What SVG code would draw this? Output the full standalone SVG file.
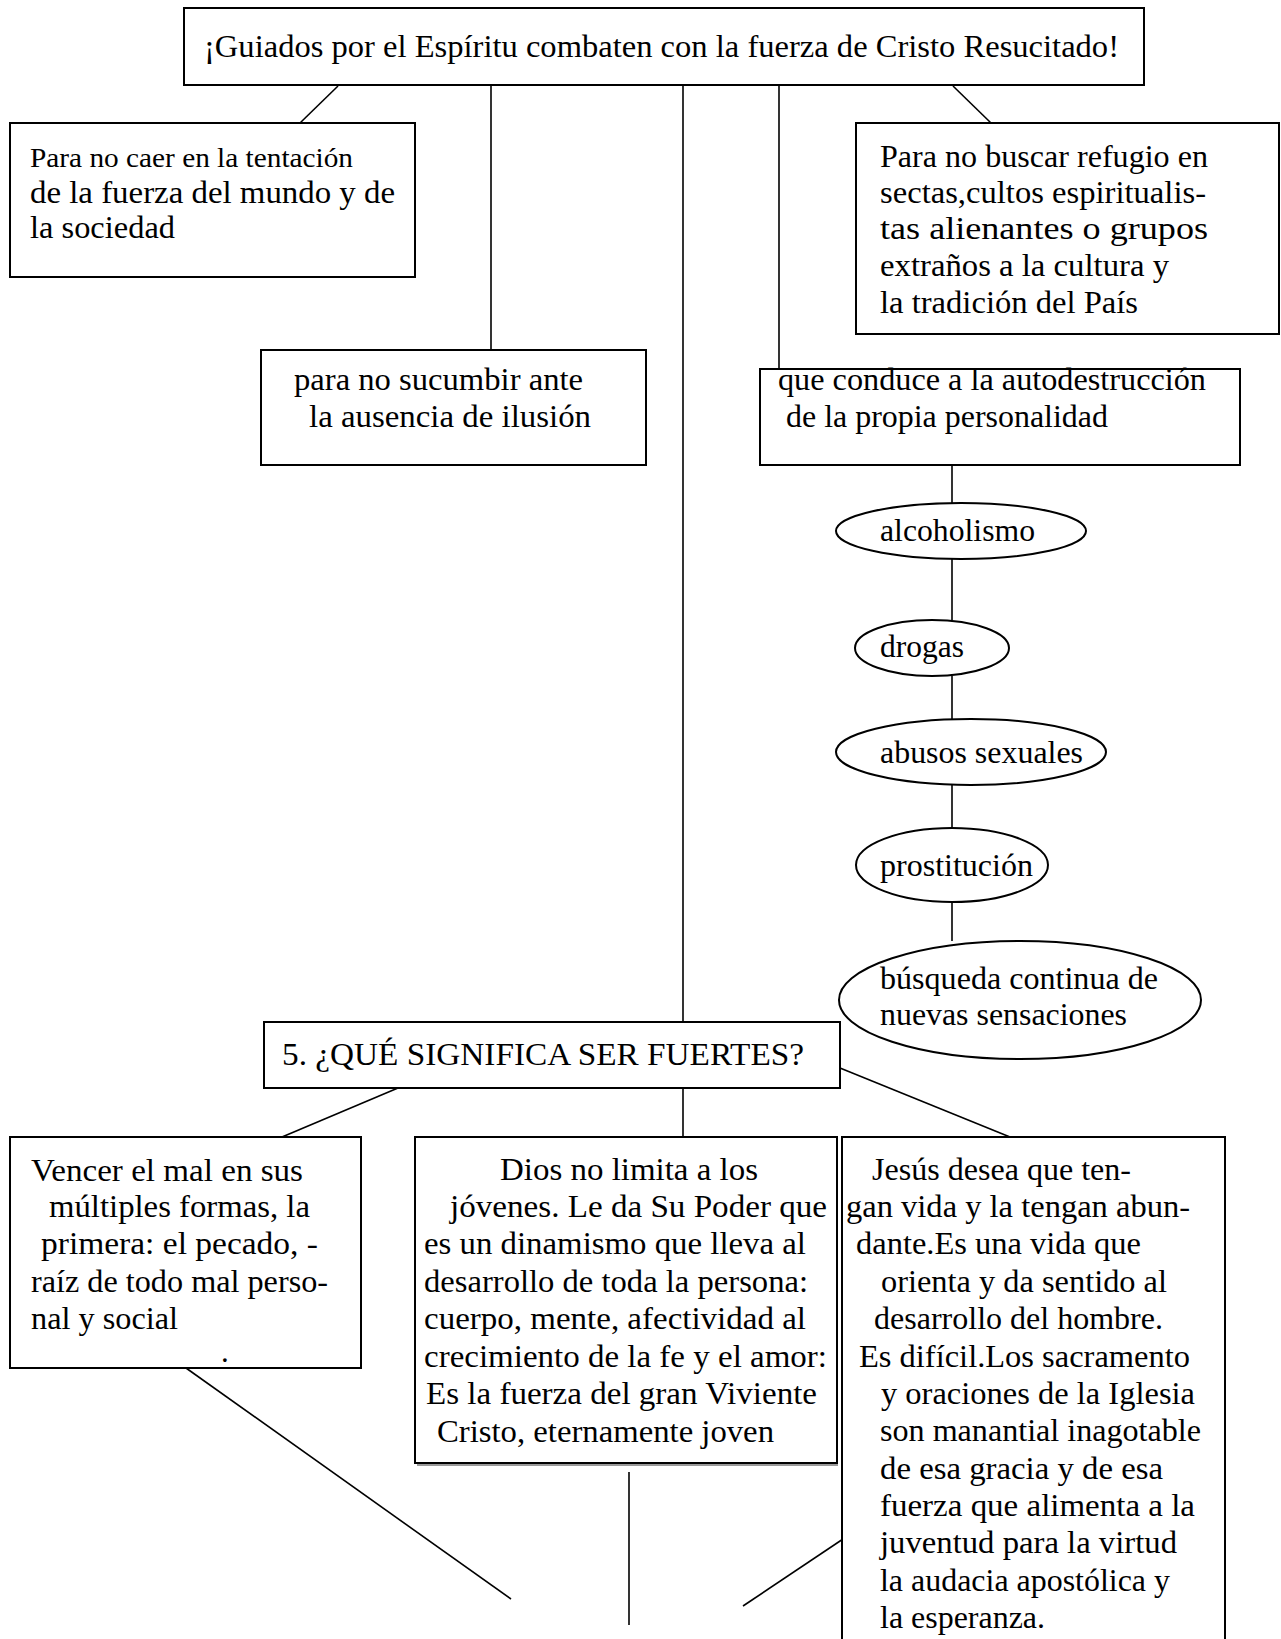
<svg xmlns="http://www.w3.org/2000/svg" width="1281" height="1639" viewBox="0 0 1281 1639">
<style>
  .box { fill: #fff; stroke: #000; stroke-width: 2; }
  .ell { fill: #fff; stroke: #000; stroke-width: 2; }
  .ln { stroke: #000; stroke-width: 1.6; fill: none; }
  .t { font-family: 'Times New Roman', Times, 'Liberation Serif', Tinos, serif; font-size: 31px; fill: #000; }
  .sm { font-size: 28px; }
</style>
<rect width="1281" height="1639" fill="#fff"/>
<g id="connectors">
  <line class="ln" x1="338" y1="86" x2="300" y2="123"/>
  <line class="ln" x1="491" y1="86" x2="491" y2="350"/>
  <line class="ln" x1="683" y1="86" x2="683" y2="1022"/>
  <line class="ln" x1="779" y1="86" x2="779" y2="372"/>
  <line class="ln" x1="953" y1="86" x2="991" y2="123"/>
  <line class="ln" x1="952" y1="466" x2="952" y2="503"/>
  <line class="ln" x1="952" y1="559" x2="952" y2="620"/>
  <line class="ln" x1="952" y1="676" x2="952" y2="719"/>
  <line class="ln" x1="952" y1="785" x2="952" y2="828"/>
  <line class="ln" x1="952" y1="902" x2="952" y2="941"/>
  <line class="ln" x1="398" y1="1088" x2="282" y2="1137"/>
  <line class="ln" x1="683" y1="1088" x2="683" y2="1137"/>
  <line class="ln" x1="840" y1="1068" x2="1010" y2="1137"/>
  <line class="ln" x1="186" y1="1368" x2="511" y2="1599"/>
  <line class="ln" x1="629" y1="1472" x2="629" y2="1625"/>
  <line class="ln" x1="743" y1="1606" x2="858" y2="1529"/>
</g>
<g id="title" class="t">
  <rect class="box" x="184" y="8" width="960" height="77"/>
  <text x="204" y="57" textLength="915" lengthAdjust="spacingAndGlyphs">¡Guiados por el Espíritu combaten con la fuerza de Cristo Resucitado!</text>
</g>
<g id="tentacion" class="t">
  <rect class="box" x="10" y="123" width="405" height="154"/>
  <text class="sm" x="30" y="167" textLength="323" lengthAdjust="spacingAndGlyphs">Para no caer en la tentación</text>
  <text x="30" y="203" textLength="365" lengthAdjust="spacingAndGlyphs">de la fuerza del mundo y de</text>
  <text x="30" y="238" textLength="145" lengthAdjust="spacingAndGlyphs">la sociedad</text>
</g>
<g id="refugio" class="t">
  <rect class="box" x="856" y="123" width="423" height="211"/>
  <text x="880" y="167" textLength="328" lengthAdjust="spacingAndGlyphs">Para  no  buscar  refugio  en</text>
  <text x="880" y="203" textLength="326" lengthAdjust="spacingAndGlyphs">sectas,cultos espiritualis-</text>
  <text x="880" y="239" textLength="328" lengthAdjust="spacingAndGlyphs">tas  alienantes  o  grupos</text>
  <text x="880" y="276" textLength="289" lengthAdjust="spacingAndGlyphs">extraños a la cultura y</text>
  <text x="880" y="313" textLength="258" lengthAdjust="spacingAndGlyphs">la tradición del País</text>
</g>
<g id="sucumbir" class="t">
  <rect class="box" x="261" y="350" width="385" height="115"/>
  <text x="294" y="390" textLength="289" lengthAdjust="spacingAndGlyphs">para no sucumbir ante</text>
  <text x="309" y="427" textLength="282" lengthAdjust="spacingAndGlyphs">la ausencia de ilusión</text>
</g>
<g id="autodestruccion" class="t">
  <rect class="box" x="760" y="369" width="480" height="96"/>
  <text x="778" y="390" textLength="428" lengthAdjust="spacingAndGlyphs">que conduce a la autodestrucción</text>
  <text x="786" y="427" textLength="322" lengthAdjust="spacingAndGlyphs">de la propia personalidad</text>
</g>
<g id="alcoholismo" class="t">
  <ellipse class="ell" cx="961" cy="531" rx="125" ry="28"/>
  <text x="880" y="541" textLength="155" lengthAdjust="spacingAndGlyphs">alcoholismo</text>
</g>
<g id="drogas" class="t">
  <ellipse class="ell" cx="932" cy="648" rx="77" ry="28"/>
  <text x="880" y="657" textLength="84" lengthAdjust="spacingAndGlyphs">drogas</text>
</g>
<g id="abusos" class="t">
  <ellipse class="ell" cx="971" cy="752" rx="135" ry="33"/>
  <text x="880" y="763" textLength="203" lengthAdjust="spacingAndGlyphs">abusos sexuales</text>
</g>
<g id="prostitucion" class="t">
  <ellipse class="ell" cx="952" cy="865" rx="96" ry="37"/>
  <text x="880" y="876" textLength="153" lengthAdjust="spacingAndGlyphs">prostitución</text>
</g>
<g id="busqueda" class="t">
  <ellipse class="ell" cx="1020" cy="1000" rx="181" ry="59"/>
  <text x="880" y="989" textLength="278" lengthAdjust="spacingAndGlyphs">búsqueda continua de</text>
  <text x="880" y="1025" textLength="247" lengthAdjust="spacingAndGlyphs">nuevas sensaciones</text>
</g>
<g id="fuertes" class="t">
  <rect class="box" x="264" y="1022" width="576" height="66"/>
  <text x="282" y="1065" textLength="522" lengthAdjust="spacingAndGlyphs">5. ¿QUÉ SIGNIFICA SER FUERTES?</text>
</g>
<g id="vencer" class="t">
  <rect class="box" x="10" y="1137" width="351" height="231"/>
  <text x="31" y="1181" textLength="272" lengthAdjust="spacingAndGlyphs">Vencer el mal en sus</text>
  <text x="49" y="1217" textLength="261" lengthAdjust="spacingAndGlyphs">múltiples formas, la</text>
  <text x="41" y="1254" textLength="277" lengthAdjust="spacingAndGlyphs">primera: el pecado, -</text>
  <text x="31" y="1292" textLength="297" lengthAdjust="spacingAndGlyphs">raíz de todo mal perso-</text>
  <text x="31" y="1329" textLength="147" lengthAdjust="spacingAndGlyphs">nal y social</text>
  <text x="221" y="1362">.</text>
</g>
<g id="dios" class="t">
  <line x1="417" y1="1465" x2="838" y2="1465" stroke="#999" stroke-width="2"/>
  <rect class="box" x="415" y="1137" width="422" height="326"/>
  <text x="500" y="1180" textLength="258" lengthAdjust="spacingAndGlyphs">Dios no limita a los</text>
  <text x="450" y="1217" textLength="377" lengthAdjust="spacingAndGlyphs">jóvenes. Le da Su Poder que</text>
  <text x="424" y="1254" textLength="382" lengthAdjust="spacingAndGlyphs">es un dinamismo que lleva al</text>
  <text x="424" y="1292" textLength="384" lengthAdjust="spacingAndGlyphs">desarrollo de toda la persona:</text>
  <text x="424" y="1329" textLength="382" lengthAdjust="spacingAndGlyphs">cuerpo, mente, afectividad al</text>
  <text x="424" y="1367" textLength="403" lengthAdjust="spacingAndGlyphs">crecimiento de la fe y el amor:</text>
  <text x="426" y="1404" textLength="391" lengthAdjust="spacingAndGlyphs">Es la fuerza del gran Viviente</text>
  <text x="437" y="1442" textLength="337" lengthAdjust="spacingAndGlyphs">Cristo, eternamente joven</text>
</g>
<g id="jesus" class="t">
  <rect class="box" x="842" y="1137" width="383" height="520"/>
  <text x="872" y="1180" textLength="259" lengthAdjust="spacingAndGlyphs">Jesús desea que ten-</text>
  <text x="846" y="1217" textLength="344" lengthAdjust="spacingAndGlyphs">gan vida y la tengan abun-</text>
  <text x="856" y="1254" textLength="285" lengthAdjust="spacingAndGlyphs">dante.Es una vida que</text>
  <text x="881" y="1292" textLength="286" lengthAdjust="spacingAndGlyphs">orienta y da sentido al</text>
  <text x="874" y="1329" textLength="289" lengthAdjust="spacingAndGlyphs">desarrollo del hombre.</text>
  <text x="859" y="1367" textLength="331" lengthAdjust="spacingAndGlyphs">Es difícil.Los sacramento</text>
  <text x="881" y="1404" textLength="314" lengthAdjust="spacingAndGlyphs">y oraciones de la Iglesia</text>
  <text x="880" y="1441" textLength="321" lengthAdjust="spacingAndGlyphs">son manantial inagotable</text>
  <text x="880" y="1479" textLength="283" lengthAdjust="spacingAndGlyphs">de esa gracia y de esa</text>
  <text x="880" y="1516" textLength="315" lengthAdjust="spacingAndGlyphs">fuerza  que alimenta a la</text>
  <text x="880" y="1553" textLength="297" lengthAdjust="spacingAndGlyphs">juventud para la virtud</text>
  <text x="880" y="1591" textLength="290" lengthAdjust="spacingAndGlyphs">la audacia apostólica y</text>
  <text x="880" y="1628" textLength="165" lengthAdjust="spacingAndGlyphs">la esperanza.</text>
</g>
</svg>
